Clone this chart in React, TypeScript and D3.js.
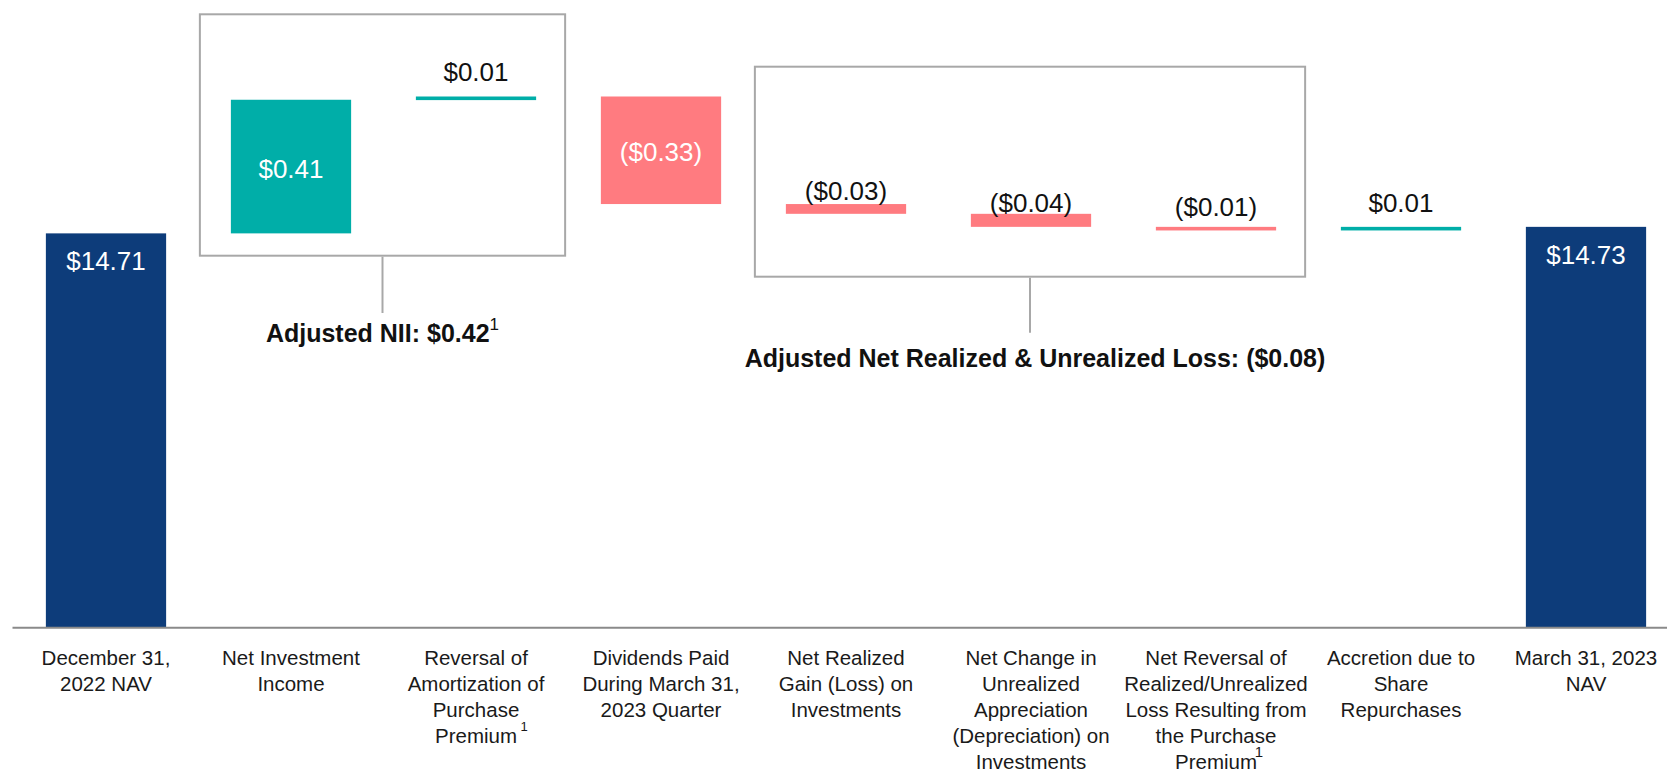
import React, { useEffect, useRef } from 'react';
import * as d3 from 'd3';

// x categories and their wrapped label lines
const categories = [
  'December 31, 2022 NAV',
  'Net Investment Income',
  'Reversal of Amortization of Purchase Premium',
  'Dividends Paid During March 31, 2023 Quarter',
  'Net Realized Gain (Loss) on Investments',
  'Net Change in Unrealized Appreciation (Depreciation) on Investments',
  'Net Reversal of Realized/Unrealized Loss Resulting from the Purchase Premium',
  'Accretion due to Share Repurchases',
  'March 31, 2023 NAV',
];
const categoryLines = [
  ['December 31,', '2022 NAV'],
  ['Net Investment', 'Income'],
  ['Reversal of', 'Amortization of', 'Purchase', 'Premium'],
  ['Dividends Paid', 'During March 31,', '2023 Quarter'],
  ['Net Realized', 'Gain (Loss) on', 'Investments'],
  ['Net Change in', 'Unrealized', 'Appreciation', '(Depreciation) on', 'Investments'],
  ['Net Reversal of', 'Realized/Unrealized', 'Loss Resulting from', 'the Purchase', 'Premium'],
  ['Accretion due to', 'Share', 'Repurchases'],
  ['March 31, 2023', 'NAV'],
];

// waterfall values ($ per share)
const values = [14.71, 0.41, 0.01, -0.33, -0.03, -0.04, -0.01, 0.01, 14.73];
const isTotal = [true, false, false, false, false, false, false, false, true];
const valueLabels = ['$14.71', '$0.41', '$0.01', '($0.33)', '($0.03)', '($0.04)', '($0.01)', '$0.01', '$14.73'];

// bracketed groups
const groupLabels = ['Adjusted NII: $0.42', 'Adjusted Net Realized & Unrealized Loss: ($0.08)'];
const groupRanges = [[1, 2], [4, 6]];
const groupNotes = ['1', ''];
const footnoteCats = [2, 6];

const yMin = 13.5;
const yMax = 15.13;

// layout
const width = 1667;
const height = 769;
const baseY = 627.7;
const colors = { total: '#0d3c7a', up: '#00aea8', down: '#ff7b80' };
const smallLabelOffset = [0, 0, -15.5, 0, -4.5, -2, -11, -15, 0];
const frames = [
  { top: 14.3, bottom: 255.7, stemEnd: 313, textY: 342, textDx: 0 },
  { top: 66.7, bottom: 276.7, stemEnd: 332.7, textY: 367, textDx: 5 },
];
const footnotePos = [{ dx: 48, y: 731, size: 13 }, { dx: 43, y: 757, size: 15 }];

const App = () => {
  const svgRef = useRef(null);

  useEffect(() => {
    const svg = d3.select(svgRef.current);
    svg.selectAll('*').remove();

    const x = d3.scaleBand()
      .domain(categories)
      .range([13.5, 1678.5])
      .paddingInner(0.35)
      .paddingOuter(0.175);

    const y = d3.scaleLinear()
      .domain([yMin, yMax])
      .range([baseY, 96.5]);

    // running totals for the waterfall
    let running = 0;
    const steps = values.map((v, i) => {
      if (isTotal[i]) {
        running = v;
        return { i, lo: yMin, hi: v, v };
      }
      const start = running;
      running = +(running + v).toFixed(2);
      return { i, lo: Math.min(start, running), hi: Math.max(start, running), v };
    });

    const cxOf = (i) => x(categories[i]) + x.bandwidth() / 2;

    svg.selectAll('rect.bar')
      .data(steps)
      .join('rect')
      .attr('class', 'bar')
      .attr('x', d => x(categories[d.i]))
      .attr('width', x.bandwidth())
      .attr('y', d => y(d.hi))
      .attr('height', d => Math.max(y(d.lo) - y(d.hi), 3.6))
      .attr('fill', d => isTotal[d.i] ? colors.total : d.v >= 0 ? colors.up : colors.down);

    // baseline
    svg.append('line')
      .attr('x1', 12.5).attr('x2', width)
      .attr('y1', baseY).attr('y2', baseY)
      .attr('stroke', '#8a8a8a')
      .attr('stroke-width', 2);

    // value labels
    steps.forEach(d => {
      const top = y(d.hi);
      const bottom = y(d.lo);
      let ty;
      let fill = '#fff';
      if (isTotal[d.i]) ty = top + 37;
      else if (bottom - top > 40) ty = (top + bottom) / 2 + 11;
      else {
        ty = top + smallLabelOffset[d.i];
        fill = '#111';
      }
      svg.append('text')
        .attr('x', cxOf(d.i))
        .attr('y', ty)
        .attr('text-anchor', 'middle')
        .attr('font-size', 26)
        .attr('fill', fill)
        .text(valueLabels[d.i]);
    });

    // group frames with connector and label
    groupRanges.forEach(([a, b], g) => {
      const f = frames[g];
      const x0 = x(categories[a]) - 31;
      const x1 = x(categories[b]) + x.bandwidth() + 29;
      const cx = (x0 + x1) / 2;
      svg.append('rect')
        .attr('x', x0).attr('y', f.top)
        .attr('width', x1 - x0).attr('height', f.bottom - f.top)
        .attr('fill', 'none')
        .attr('stroke', '#a8a8a8')
        .attr('stroke-width', 2);
      svg.append('line')
        .attr('x1', cx).attr('x2', cx)
        .attr('y1', f.bottom + 1).attr('y2', f.stemEnd)
        .attr('stroke', '#a8a8a8')
        .attr('stroke-width', 2);
      const t = svg.append('text')
        .attr('x', cx + f.textDx)
        .attr('y', f.textY)
        .attr('text-anchor', 'middle')
        .attr('font-size', 25)
        .attr('font-weight', 700)
        .attr('fill', '#111')
        .text(groupLabels[g]);
      if (groupNotes[g]) {
        t.append('tspan')
          .attr('dy', -12)
          .attr('font-size', 17)
          .attr('font-weight', 400)
          .text(groupNotes[g]);
      }
    });

    // category labels
    categoryLines.forEach((lines, i) => {
      const t = svg.append('text')
        .attr('text-anchor', 'middle')
        .attr('font-size', 20.5)
        .attr('fill', '#1a1a1a');
      lines.forEach((line, k) => {
        t.append('tspan')
          .attr('x', cxOf(i))
          .attr('y', 665 + k * 26)
          .text(line);
      });
    });

    // footnote markers in category labels
    footnoteCats.forEach((ci, k) => {
      svg.append('text')
        .attr('x', cxOf(ci) + footnotePos[k].dx)
        .attr('y', footnotePos[k].y)
        .attr('text-anchor', 'middle')
        .attr('font-size', footnotePos[k].size)
        .attr('fill', '#1a1a1a')
        .text('1');
    });
  }, []);

  return (
    <svg
      ref={svgRef}
      width={width}
      height={height}
      fontFamily="'Liberation Sans', Arial, sans-serif"
      style={{ position: 'absolute', left: 0, top: 0, background: '#fff' }}
    />
  );
};

export default App;
